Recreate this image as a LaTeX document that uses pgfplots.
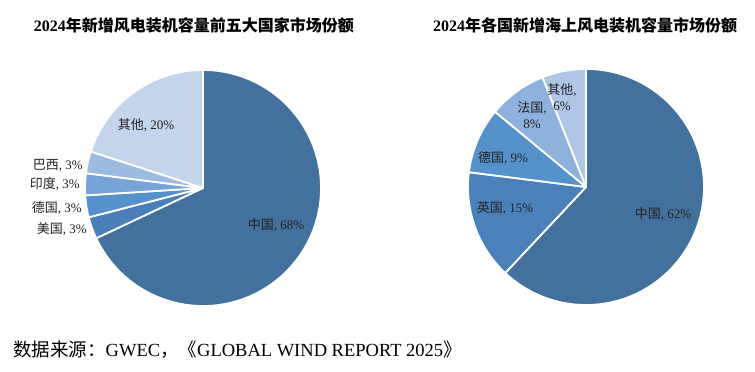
\documentclass[border=0pt]{standalone}
\usepackage{pgfplots}
\pgfplotsset{compat=1.18}
\usepackage{pgfplotstable}
\usepackage{fontspec}
\setmainfont{Liberation Serif}
\newfontfamily\cjk{Noto Sans CJK SC}
\definecolor{cA1}{HTML}{43719D}
\definecolor{cA2}{HTML}{4A80BA}
\definecolor{cA3}{HTML}{5592CC}
\definecolor{cA4}{HTML}{77A3D7}
\definecolor{cA5}{HTML}{9CBBE1}
\definecolor{cA6}{HTML}{C4D4EA}
\definecolor{cB1}{HTML}{43719D}
\definecolor{cB2}{HTML}{4B81BB}
\definecolor{cB3}{HTML}{5592CC}
\definecolor{cB4}{HTML}{8EB1DD}
\definecolor{cB5}{HTML}{AFC6E6}
\definecolor{txt}{HTML}{222222}

% clockwise from 12 o'clock
\pgfplotstableread{
value color
68 cA1
3 cA2
3 cA3
3 cA4
3 cA5
20 cA6
}\leftdata
\pgfplotstableread{
value color
62 cB1
15 cB2
9 cB3
8 cB4
6 cB5
}\rightdata

\newcommand{\pieslices}[1]{%
  \pgfplotstablegetrowsof{#1}%
  \pgfmathtruncatemacro{\N}{\pgfplotsretval-1}%
  \def\cumangle{90}%
  \pgfplotsforeachungrouped \i in {0,...,\N}{%
    \pgfplotstablegetelem{\i}{value}\of{#1}%
    \pgfmathsetmacro{\sweep}{3.6*\pgfplotsretval}%
    \pgfmathsetmacro{\endangle}{\cumangle-\sweep}%
    \pgfplotstablegetelem{\i}{color}\of{#1}%
    \edef\temp{\noexpand\fill[\pgfplotsretval, draw=white, line width=1.8pt, line join=round]
      (axis cs:0,0) -- (axis cs:{cos(\cumangle)*118/117},{sin(\cumangle)*118/117})
      arc[start angle=\cumangle, end angle=\endangle, radius=118pt] -- cycle;}%
    \temp
    \global\let\cumangle\endangle
  }%
}

\pgfplotsset{pieaxis/.style={hide axis, scale only axis, width=234pt, height=234pt,
  xmin=-1, xmax=1, ymin=-1, ymax=1, clip=false, anchor=south west}}

\begin{document}
\begin{tikzpicture}[x=1pt,y=1pt]
\useasboundingbox (0,0) rectangle (755,372);

\begin{axis}[pieaxis, at={(86pt,67pt)}]
\pieslices{\leftdata}
\end{axis}

\begin{axis}[pieaxis, at={(469pt,68pt)}]
\pieslices{\rightdata}
\end{axis}

% titles
\node[font=\fontsize{16}{18}\selectfont\bfseries, text=black] at (194,346.5) {2024{\cjk\bfseries 年新增风电装机容量前五大国家市场份额}};
\node[font=\fontsize{16}{18}\selectfont\bfseries, text=black] at (585,346.5) {2024{\cjk\bfseries 年各国新增海上风电装机容量市场份额}};

% left labels
\begin{scope}[every node/.style={font=\fontsize{13}{16}\selectfont, text=txt, inner sep=0pt}]
\node at (276,147) {{\cjk 中国}, 68\%};
\node at (146,247) {{\cjk 其他}, 20\%};
\node[anchor=east] at (83,207) {{\cjk 巴西}, 3\%};
\node[anchor=east] at (80,188) {{\cjk 印度}, 3\%};
\node[anchor=east] at (82,164) {{\cjk 德国}, 3\%};
\node[anchor=east] at (87,143) {{\cjk 美国}, 3\%};
% right labels
\node at (663,158) {{\cjk 中国}, 62\%};
\node at (505,164) {{\cjk 英国}, 15\%};
\node at (503,214) {{\cjk 德国}, 9\%};
\node[align=center] at (532,257) {{\cjk 法国}, \\ 8\%};
\node[align=center] at (562,275) {{\cjk 其他}, \\ 6\%};
\end{scope}

% source
\node[anchor=west, inner sep=0pt, font=\fontsize{18.5}{20}\selectfont, text=black] at (13,22) {{\cjk 数据来源：}GWEC{\cjk ，}{\cjk 《}GLOBAL WIND REPORT 2025{\cjk 》}};
\end{tikzpicture}
\end{document}
